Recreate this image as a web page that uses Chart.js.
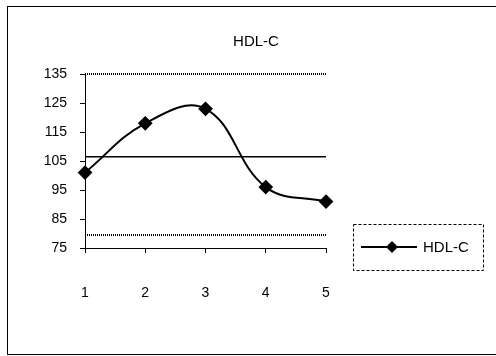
<!DOCTYPE html>
<html lang="en">
<head>
    <meta charset="UTF-8">
    <title>HDL-C</title>
    <script src="https://cdn.jsdelivr.net/npm/chart.js"></script>
    <style>
        body {
            margin: 0;
            background: #fff;
            font-family: "Liberation Sans", Arial, sans-serif;
        }
        .chart-box {
            position: relative;
            width: 496px;
            height: 356px;
            overflow: hidden;
        }
        .frame {
            position: absolute;
            left: 7px;
            top: 6px;
            width: 500px;
            height: 347px;
            border: 1px solid #000;
        }
        canvas {
            position: absolute;
            left: 0;
            top: 0;
        }
    </style>
</head>
<body>
    <div class="chart-box">
        <div class="frame"></div>
        <canvas id="hdlChart" width="496" height="356"></canvas>
    </div>

    <script>
        const categories = ["1", "2", "3", "4", "5"];
        const hdlValues = [101, 118, 123, 96, 91];
        const upperLimit = [135, 135, 135, 135, 135];
        const meanLine = [106.5, 106.5, 106.5, 106.5, 106.5];
        const lowerLimit = [79.5, 79.5, 79.5, 79.5, 79.5];
        const yTicks = [75, 85, 95, 105, 115, 125, 135];
        const seriesName = "HDL-C";

        const FONT = "'Liberation Sans', Arial, sans-serif";

        // title sits over the plot, a bit right of its centre, like the original
        const titleText = {
            id: "titleText",
            afterDraw(chart) {
                const ctx = chart.ctx;
                ctx.save();
                ctx.fillStyle = "#000";
                ctx.font = "15px " + FONT;
                ctx.textAlign = "center";
                ctx.textBaseline = "middle";
                ctx.fillText(seriesName, 256, 42);
                ctx.restore();
            }
        };

        // legend box drawn by hand: dashed frame, line with diamond marker
        const boxLegend = {
            id: "boxLegend",
            afterDraw(chart) {
                const ctx = chart.ctx;
                ctx.save();
                ctx.strokeStyle = "#000";
                ctx.lineWidth = 1;
                ctx.setLineDash([3, 2]);
                ctx.strokeRect(353.5, 224.5, 130, 46);
                ctx.setLineDash([]);

                ctx.lineWidth = 2;
                ctx.beginPath();
                ctx.moveTo(361, 247);
                ctx.lineTo(417, 247);
                ctx.stroke();

                ctx.fillStyle = "#000";
                ctx.beginPath();
                ctx.moveTo(392, 241);
                ctx.lineTo(398, 247);
                ctx.lineTo(392, 253);
                ctx.lineTo(386, 247);
                ctx.closePath();
                ctx.fill();

                ctx.font = "15px " + FONT;
                ctx.textBaseline = "middle";
                ctx.fillText(seriesName, 423, 248);
                ctx.restore();
            }
        };

        new Chart(document.getElementById("hdlChart"), {
            type: "line",
            data: {
                labels: categories,
                datasets: [
                    {
                        label: seriesName,
                        data: hdlValues,
                        borderColor: "#000",
                        backgroundColor: "#000",
                        borderWidth: 2,
                        tension: 0.4,
                        pointStyle: "rectRot",
                        pointRadius: 6,
                        pointBackgroundColor: "#000",
                        pointBorderColor: "#000",
                        clip: false
                    },
                    {
                        label: "upper",
                        data: upperLimit,
                        borderColor: "#000",
                        borderWidth: 2,
                        borderDash: [1, 1],
                        pointRadius: 0,
                        clip: false
                    },
                    {
                        label: "mean",
                        data: meanLine,
                        borderColor: "#000",
                        borderWidth: 1.5,
                        pointRadius: 0,
                        clip: false
                    },
                    {
                        label: "lower",
                        data: lowerLimit,
                        borderColor: "#000",
                        borderWidth: 2,
                        borderDash: [1, 1],
                        pointRadius: 0,
                        clip: false
                    }
                ]
            },
            options: {
                responsive: false,
                animation: false,
                layout: { padding: { left: 0, top: 74, right: 170, bottom: 0 } },
                plugins: {
                    legend: { display: false },
                    tooltip: { enabled: false },
                    title: { display: false }
                },
                scales: {
                    x: {
                        offset: false,
                        grid: { drawOnChartArea: false, drawTicks: true, tickLength: 5, color: "#000" },
                        border: { color: "#000", width: 1 },
                        ticks: { color: "#000", padding: 32, font: { family: FONT, size: 14 } },
                        afterFit(scale) { scale.height = 108; }
                    },
                    y: {
                        min: 75,
                        max: 135,
                        afterBuildTicks(scale) {
                            scale.ticks = yTicks.map(v => ({ value: v }));
                        },
                        grid: { drawOnChartArea: false, drawTicks: true, tickLength: 5, color: "#000" },
                        border: { color: "#000", width: 1 },
                        ticks: { color: "#000", padding: 13, font: { family: FONT, size: 14 } },
                        afterFit(scale) { scale.width = 85; }
                    }
                }
            },
            plugins: [titleText, boxLegend]
        });
    </script>
</body>
</html>
